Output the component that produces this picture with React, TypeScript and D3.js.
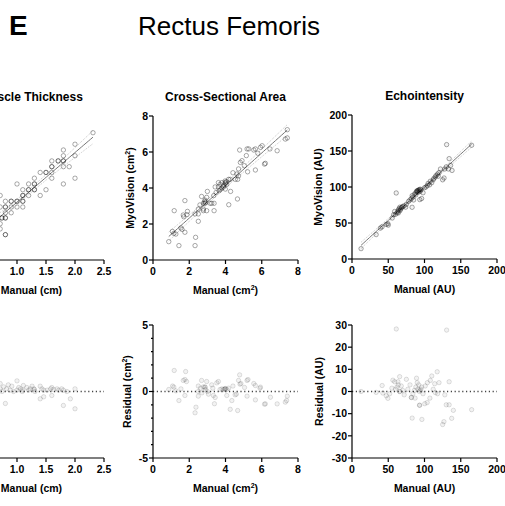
import React from "react";
import * as d3 from "d3";

// Muscle thickness (cm): manual vs MyoVision
const mtPoints: [number, number][] = [
  [2.31, 2.21], [2.0, 2.01], [1.8, 1.91], [1.8, 1.81], [2.0, 1.81],
  [1.6, 1.72], [1.71, 1.72], [1.71, 1.72], [1.8, 1.72], [1.8, 1.72],
  [1.6, 1.62], [1.6, 1.62], [1.8, 1.62], [1.9, 1.62],
  [1.5, 1.52], [1.5, 1.52], [1.6, 1.52], [1.4, 1.52],
  [1.6, 1.42], [2.0, 1.42], [1.3, 1.42],
  [1.0, 1.32], [1.2, 1.32], [1.3, 1.32], [1.3, 1.32], [1.8, 1.32],
  [1.1, 1.22], [1.2, 1.22], [1.2, 1.22], [1.3, 1.22], [1.3, 1.22], [1.5, 1.22],
  [1.1, 1.12], [1.1, 1.12], [1.2, 1.12], [1.4, 1.12], [0.71, 1.12],
  [0.9, 1.02], [0.9, 1.02], [1.0, 1.02], [1.0, 1.02], [1.1, 1.02], [1.1, 1.02], [0.8, 1.02],
  [0.71, 0.92], [0.8, 0.92], [0.8, 0.92], [0.9, 0.92], [1.0, 0.92], [1.1, 0.92],
  [0.8, 0.82], [0.9, 0.82],
  [0.74, 0.73], [0.74, 0.73], [0.8, 0.73], [0.8, 0.73],
  [0.71, 0.63], [0.71, 0.54], [0.8, 0.44], [0.8, 0.44],
];
const mtResid: [number, number][] = [
  [0.71, 0.12], [0.71, 0.04], [0.74, 0.0], [0.8, -0.18], [0.77, 0.07], [0.82, 0.04],
  [0.85, 0.1], [0.88, 0.02], [0.91, 0.08], [0.94, 0.0], [1.0, 0.16], [1.0, 0.02],
  [1.03, 0.06], [1.06, 0.04], [1.09, 0.0], [1.1, 0.02], [1.11, 0.09], [1.17, 0.06],
  [1.2, 0.02], [1.23, 0.04], [1.26, 0.08], [1.29, 0.04], [1.3, 0.03], [1.31, 0.0],
  [1.4, 0.08], [1.4, -0.11], [1.43, 0.04], [1.46, 0.02], [1.46, -0.08], [1.52, 0.02],
  [1.58, 0.04], [1.6, 0.06], [1.6, -0.06], [1.63, 0.03], [1.69, 0.04], [1.72, 0.02],
  [1.77, 0.04], [1.8, 0.02], [1.8, -0.21], [1.86, 0.0], [1.92, -0.11], [2.0, 0.04], [2.0, -0.26],
];

// Cross-sectional area (cm2)
const csaPoints: [number, number][] = [
  [0.87, 1.02], [1.43, 0.8], [2.32, 0.8], [2.35, 1.26], [1.07, 1.59], [1.15, 1.48],
  [1.26, 1.44], [1.54, 1.78], [1.6, 1.7], [1.76, 1.54], [1.17, 2.74], [1.76, 3.3],
  [1.67, 2.5], [1.7, 2.4], [1.87, 2.52], [1.9, 2.7], [2.5, 2.15], [2.32, 2.56],
  [2.5, 2.56], [2.5, 2.83], [2.59, 3.06], [2.78, 2.83], [2.68, 3.53], [2.87, 3.33],
  [2.87, 3.15], [2.96, 3.48], [2.78, 3.15], [2.85, 3.25], [2.9, 3.2], [3.0, 3.81],
  [3.24, 3.15], [3.37, 3.15], [3.15, 3.15], [3.37, 2.74], [2.96, 2.74], [2.78, 2.74],
  [3.35, 3.58], [3.48, 3.75], [3.43, 4.06], [3.61, 4.06], [3.61, 4.3], [3.7, 4.2],
  [3.8, 4.3], [3.89, 4.06], [3.98, 4.3], [3.98, 4.39], [4.07, 4.2], [4.17, 4.48],
  [4.26, 4.48], [4.41, 4.85], [4.54, 4.48], [4.67, 4.48], [4.72, 4.67], [3.65, 3.85],
  [3.72, 3.92], [3.8, 4.0], [3.9, 4.15], [4.0, 4.25], [4.05, 4.35], [3.99, 3.94],
  [4.28, 3.81], [4.18, 3.07], [4.66, 3.39], [4.63, 4.78], [4.72, 5.06], [4.82, 5.42],
  [4.78, 6.11], [4.91, 5.52], [5.04, 5.24], [5.15, 5.8], [5.19, 6.17], [5.28, 6.17],
  [5.22, 4.9], [5.56, 6.11], [5.65, 6.17], [5.65, 5.0], [5.78, 5.93], [5.93, 6.26],
  [6.02, 6.35], [6.2, 5.37], [6.15, 5.33], [6.45, 6.17], [6.85, 6.07], [7.3, 6.72],
  [7.41, 6.78], [7.41, 7.24],
];
const csaResid: [number, number][] = [
  [1.17, 1.58], [1.8, 1.5], [1.67, 0.83], [1.85, 0.75], [1.76, 0.9], [1.08, 0.41],
  [1.15, 0.33], [1.43, -0.68], [1.76, -0.3], [1.54, 0.2], [0.87, 0.15], [1.26, 0.05],
  [2.37, -1.18], [2.32, -1.6], [2.5, 0.41], [2.5, 0.0], [2.5, -0.35], [2.68, 0.83],
  [2.78, 0.35], [2.87, 0.33], [2.87, 0.33], [2.96, 0.75], [3.0, 0.0], [3.06, -0.2],
  [2.9, 0.15], [2.62, 0.25], [2.7, -0.1], [3.24, 0.5], [3.33, -0.3], [3.43, -0.45],
  [3.52, 0.65], [3.61, 0.75], [3.39, -0.92], [3.3, 0.25], [3.7, 0.15], [3.8, 0.2],
  [3.89, 0.15], [3.98, 0.2], [4.07, 0.15], [4.17, 0.25], [4.0, 0.22], [3.95, 0.18],
  [4.07, -0.3], [4.26, -1.34], [4.35, -0.68], [4.41, 0.41], [4.67, -1.43], [4.6, -0.2],
  [4.53, -0.25], [4.78, 1.25], [4.72, 0.83], [4.85, 0.6], [4.8, 0.55], [5.19, 0.83],
  [5.24, 0.9], [5.19, -0.35], [5.05, 0.3], [5.56, 0.6], [5.65, 0.45], [5.65, -0.63],
  [5.93, 0.33], [5.9, 0.25], [6.2, -0.93], [6.15, -0.95], [6.48, -0.43], [6.85, -0.93],
  [7.37, -0.68], [7.41, -0.35], [7.3, -0.8],
];

// Echointensity (AU)
const eiPoints: [number, number][] = [
  [12.5, 14.4], [33.3, 33.9], [39.2, 42.9], [41.5, 44.7], [47.2, 48], [49.5, 49], [50, 47],
  [55.5, 56.9], [57.4, 61.5], [58.8, 66], [60, 62], [62, 64], [63, 66], [64, 68], [65, 70],
  [66, 67], [67, 69], [68, 71], [69, 72], [70, 73], [66, 72], [64, 64], [72, 74], [74, 72],
  [75, 76], [61, 91.7], [82.9, 71.8], [78, 80], [80, 82], [82, 84], [84, 86], [85, 82],
  [83, 88], [86, 90], [88, 92], [89, 94], [90, 95], [91, 95], [92, 96], [93, 96], [94, 97],
  [95, 96], [90, 93], [92, 93], [94, 94], [88, 89], [93.5, 82.5], [96, 84], [98, 92],
  [100, 99], [102, 100], [104, 102], [105, 105], [107, 103], [108, 108], [110, 106],
  [112, 110], [113, 112], [115, 114], [116, 116], [118, 118], [120, 120], [119, 115],
  [122, 125], [127, 112.5], [125, 110], [130.5, 158.9], [134, 139.4], [130, 128],
  [133, 125], [136, 130], [138, 123], [128, 125], [165, 158],
];
const eiResid: [number, number][] = [
  [61.1, 28.2], [130.5, 27.7], [12.5, 0], [33.3, -0.4], [41.6, 2.7], [42.5, -0.7],
  [47.2, -1.9], [49.5, -3.1], [56.4, 5.1], [58.8, 4.4], [63.4, 4.4], [65.7, 6.7],
  [65.7, 0], [65.7, 0], [60, 1], [62, 2], [64, 3], [68, 2.5], [70, 0.5], [72, -1.5],
  [55, 1.5], [52, -1], [75, 5.5], [77, 1], [80, 3], [81.9, -2.7], [81.9, -2.7], [84, -1],
  [86, 0.5], [88, 2], [89, 6], [90, 4], [91, 1], [92, 3], [93.2, -6.2], [93.2, -6.2],
  [93, 0], [94, 0.5], [95, 1], [96, 2], [96.4, -12.6], [83, -12], [87, -3], [100.4, -5.5],
  [103.7, -5], [107.4, -3], [98, -1], [101, 2.5], [104, 4], [108, 5], [110, 7], [112, 1],
  [115, -0.5], [117.5, 8.9], [114, 3.5], [120, 4], [118, -1], [128, -1.5], [130, -6],
  [134, -6], [139.8, -8.5], [134, 4.4], [137.5, -12.1], [126.8, -13.6], [125, -14.9],
  [165, -8.2],
];

const titles = ["Muscle Thickness", "Cross-Sectional  Area", "Echointensity"];

const FONT = "'Liberation Sans', Arial, sans-serif";
const hy = (f: (n: number) => string) => (n: number) => f(n).replace("\u2212", "-");

function Lbl({ text, sup, tail }: { text: string; sup?: string; tail?: string }) {
  return (
    <>
      <tspan>{text}</tspan>
      {sup && <tspan dy={-4.5} fontSize={7}>{sup}</tspan>}
      {tail && <tspan dy={sup ? 4.5 : 0}>{tail}</tspan>}
    </>
  );
}

function regression(pts: [number, number][]) {
  const n = pts.length;
  const mx = d3.mean(pts, (d) => d[0])!;
  const my = d3.mean(pts, (d) => d[1])!;
  const sxx = d3.sum(pts, (d) => (d[0] - mx) ** 2);
  const sxy = d3.sum(pts, (d) => (d[0] - mx) * (d[1] - my));
  const b = sxy / sxx;
  const a = my - b * mx;
  const s2 = d3.sum(pts, (d) => (d[1] - a - b * d[0]) ** 2) / (n - 2);
  const se = (x: number) => Math.sqrt(s2 * (1 / n + (x - mx) ** 2 / sxx));
  return { a, b, se };
}

type PanelProps = {
  x0: number; yb: number; w: number; h: number;
  xDomain: [number, number]; yDomain: [number, number];
  xTicks: number[]; yTicks: number[]; yMinor?: number[];
  xFmt: (n: number) => string; yFmt: (n: number) => string;
  title?: string; xLabel: any; yLabel: any; yLabelDx: number;
  pts: [number, number][]; mode: "fit" | "resid"; fill: string; stroke: string;
};

function Panel(p: PanelProps) {
  const x = d3.scaleLinear().domain(p.xDomain).range([p.x0, p.x0 + p.w]);
  const y = d3.scaleLinear().domain(p.yDomain).range([p.yb, p.yb - p.h]);
  let fitEls: any = null;
  if (p.mode === "fit") {
    const { a, b, se } = regression(p.pts);
    const [lo, hi] = d3.extent(p.pts, (d) => d[0]) as [number, number];
    const xs = d3.range(0, 41).map((i) => lo + ((hi - lo) * i) / 40);
    const t = 1.99;
    const mk = (k: number) =>
      d3.line<number>().x((v) => x(v)).y((v) => y(a + b * v + k * t * se(v)))(xs)!;
    fitEls = (
      <g fill="none">
        <path d={mk(1)} stroke="#aaa" strokeWidth={0.7} strokeDasharray="1,1.2" />
        <path d={mk(-1)} stroke="#aaa" strokeWidth={0.7} strokeDasharray="1,1.2" />
        <path d={mk(0)} stroke="#777" strokeWidth={1} />
      </g>
    );
  } else {
    fitEls = (
      <line x1={x(p.xDomain[0])} x2={x(p.xDomain[1])} y1={y(0)} y2={y(0)}
        stroke="#444" strokeWidth={1.3} strokeDasharray="1.2,2.6" />
    );
  }
  const cx = p.x0 + p.w / 2;
  const cy = p.yb - p.h / 2;
  return (
    <g fontFamily={FONT} fontWeight="bold">
      {p.title && (
        <text x={cx} y={p.yb - p.h - 15} textAnchor="middle" fontSize={12}>{p.title}</text>
      )}
      {fitEls}
      {p.pts.map((d, i) => (
        <circle key={i} cx={x(d[0])} cy={y(d[1])} r={2.2} fill={p.fill} stroke={p.stroke} strokeWidth={0.8} />
      ))}
      <g stroke="#000" strokeWidth={1.2}>
        <line x1={p.x0} x2={p.x0 + p.w} y1={p.yb} y2={p.yb} />
        <line x1={p.x0} x2={p.x0} y1={p.yb} y2={p.yb - p.h} />
        {p.xTicks.map((v) => (
          <line key={"xt" + v} x1={x(v)} x2={x(v)} y1={p.yb} y2={p.yb + 4} />
        ))}
        {p.yTicks.map((v) => (
          <line key={"yt" + v} x1={p.x0 - 4} x2={p.x0} y1={y(v)} y2={y(v)} />
        ))}
        {(p.yMinor || []).map((v) => (
          <line key={"ym" + v} x1={p.x0 - 2} x2={p.x0} y1={y(v)} y2={y(v)} />
        ))}
      </g>
      <g fontSize={10.5}>
        {p.xTicks.map((v) => (
          <text key={"xl" + v} x={x(v)} y={p.yb + 15} textAnchor="middle">{p.xFmt(v)}</text>
        ))}
        {p.yTicks.map((v) => (
          <text key={"yl" + v} x={p.x0 - 5} y={y(v) + 3.7} textAnchor="end">{p.yFmt(v)}</text>
        ))}
      </g>
      <text x={cx} y={p.yb + 34} textAnchor="middle" fontSize={10.5}>{p.xLabel}</text>
      <text transform={`translate(${p.x0 + p.yLabelDx},${cy}) rotate(-90)`} textAnchor="middle" fontSize={10.5}>
        {p.yLabel}
      </text>
    </g>
  );
}

export default function App() {
  const w = 145;
  const cols = [-41, 153, 352];
  const topB = 260, topH = 144, botB = 458, botH = 133;
  const f1 = d3.format(".1f");
  const f0 = hy(d3.format("d"));
  const topStroke = "rgba(0,0,0,0.42)";
  const botFill = "rgba(0,0,0,0.05)";
  const botStroke = "rgba(0,0,0,0.15)";
  return (
    <svg width={505} height={506} style={{ position: "absolute", left: 0, top: 0 }} fontFamily={FONT}>
      <rect width={505} height={506} fill="#fff" />
      <text x={9} y={35} fontSize={28} fontWeight="bold">E</text>
      <text x={138} y={35} fontSize={26}>Rectus Femoris</text>

      <Panel x0={cols[0]} yb={topB} w={w} h={topH} xDomain={[0, 2.5]} yDomain={[0, 2.5]}
        xTicks={[0, 0.5, 1, 1.5, 2, 2.5]} yTicks={[0, 0.5, 1, 1.5, 2, 2.5]} xFmt={f1} yFmt={f1}
        title={titles[0]} xLabel={<Lbl text="Manual  (cm)" />} yLabel={<Lbl text="MyoVision  (cm)" />}
        yLabelDx={-24} pts={mtPoints} mode="fit" fill="none" stroke={topStroke} />
      <Panel x0={cols[1]} yb={topB} w={w} h={topH} xDomain={[0, 8]} yDomain={[0, 8]}
        xTicks={[0, 2, 4, 6, 8]} yTicks={[0, 2, 4, 6, 8]} xFmt={f0} yFmt={f0}
        title={titles[1]} xLabel={<Lbl text="Manual  (cm" sup="2" tail=")" />}
        yLabel={<Lbl text="MyoVision  (cm" sup="2" tail=")" />}
        yLabelDx={-19} pts={csaPoints} mode="fit" fill="none" stroke={topStroke} />
      <Panel x0={cols[2]} yb={topB - 1} w={w} h={topH} xDomain={[0, 200]} yDomain={[0, 200]}
        xTicks={[0, 50, 100, 150, 200]} yTicks={[0, 50, 100, 150, 200]} xFmt={f0} yFmt={f0}
        title={titles[2]} xLabel={<Lbl text="Manual  (AU)" />} yLabel={<Lbl text="MyoVision  (AU)" />}
        yLabelDx={-30} pts={eiPoints} mode="fit" fill="rgba(0,0,0,0.05)" stroke={topStroke} />

      <Panel x0={cols[0]} yb={botB} w={w} h={botH} xDomain={[0, 2.5]} yDomain={[-1, 1]}
        xTicks={[0, 0.5, 1, 1.5, 2, 2.5]} yTicks={[-1, 0, 1]} xFmt={f1} yFmt={f0}
        xLabel={<Lbl text="Manual  (cm)" />} yLabel={<Lbl text="Residual  (cm)" />}
        yLabelDx={-22} pts={mtResid} mode="resid" fill={botFill} stroke={botStroke} />
      <Panel x0={cols[1]} yb={botB} w={w} h={botH} xDomain={[0, 8]} yDomain={[-5, 5]}
        xTicks={[0, 2, 4, 6, 8]} yTicks={[-5, 0, 5]} yMinor={[-4, -3, -2, -1, 1, 2, 3, 4]}
        xFmt={f0} yFmt={f0}
        xLabel={<Lbl text="Manual  (cm" sup="2" tail=")" />}
        yLabel={<Lbl text="Residual  (cm" sup="2" tail=")" />}
        yLabelDx={-22} pts={csaResid} mode="resid" fill={botFill} stroke={botStroke} />
      <Panel x0={cols[2]} yb={botB} w={w} h={botH} xDomain={[0, 200]} yDomain={[-30, 30]}
        xTicks={[0, 50, 100, 150, 200]} yTicks={[-30, -20, -10, 0, 10, 20, 30]}
        xFmt={f0} yFmt={f0}
        xLabel={<Lbl text="Manual  (AU)" />} yLabel={<Lbl text="Residual  (AU)" />}
        yLabelDx={-29} pts={eiResid} mode="resid" fill={botFill} stroke={botStroke} />
    </svg>
  );
}
